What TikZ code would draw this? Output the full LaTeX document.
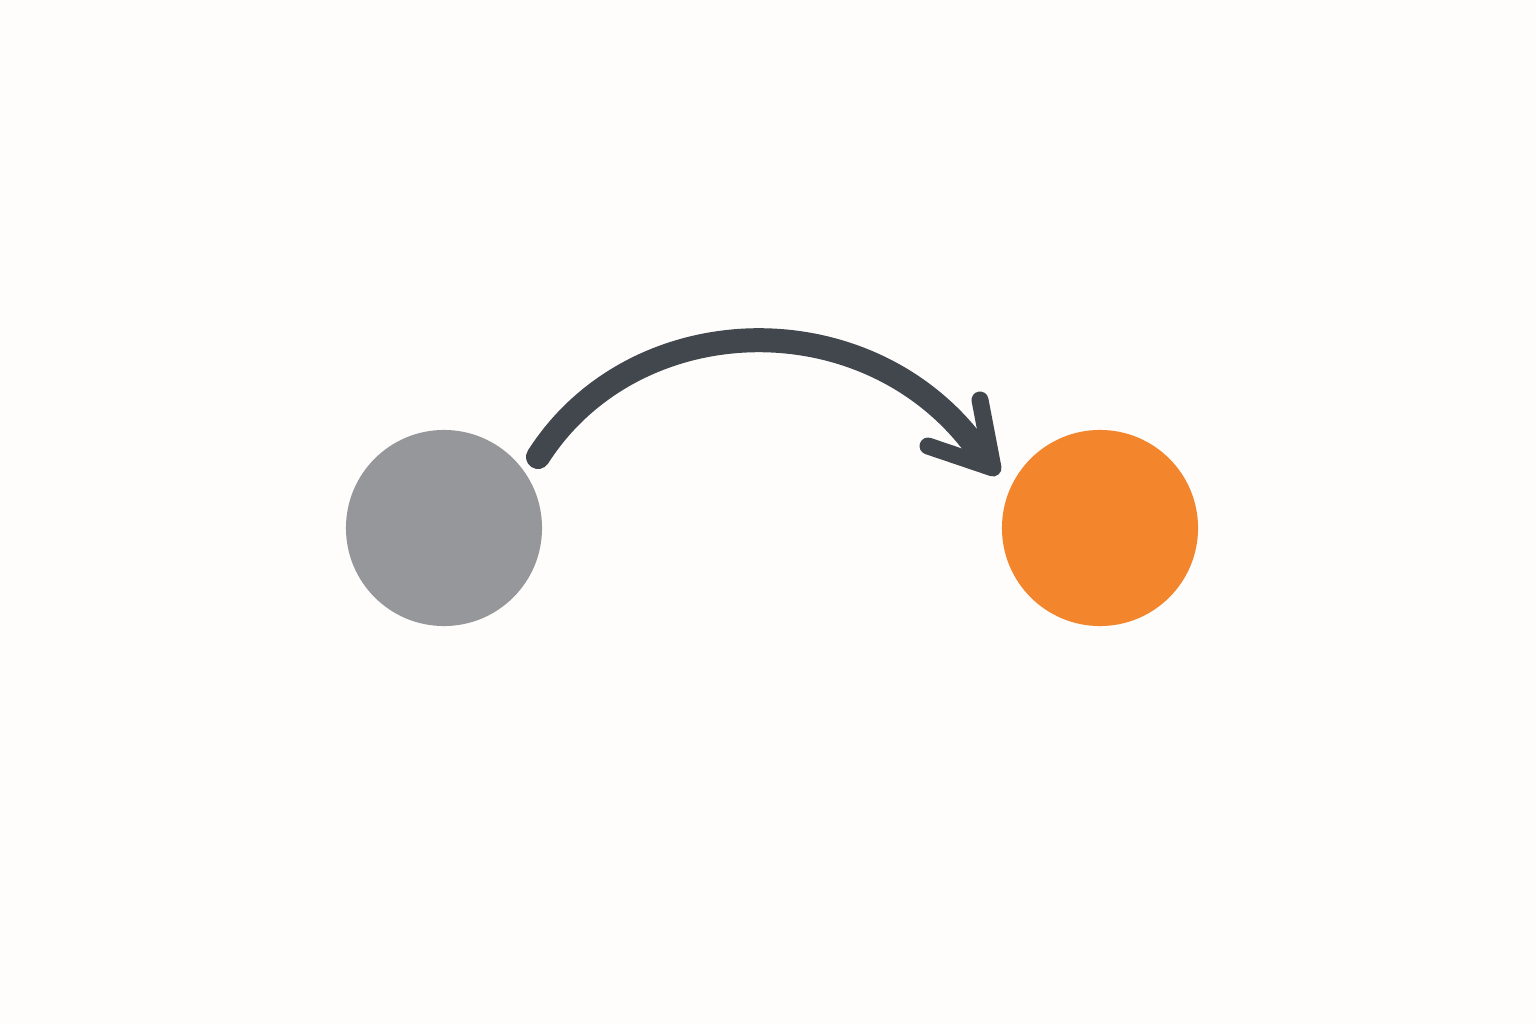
\documentclass[tikz,border=0pt]{standalone}
\usepackage{tikz}
\definecolor{bgc}{HTML}{FEFDFB}
\definecolor{grayc}{HTML}{96979B}
\definecolor{orangec}{HTML}{F3852C}
\definecolor{arrowc}{HTML}{41474D}
\begin{document}
\begin{tikzpicture}[x=0.01cm,y=-0.01cm,
  dot/.style={circle,minimum size=1.96cm,inner sep=0pt,draw=none},
  shaft/.style={draw=arrowc,line width=0.24cm,line cap=round},
  headline/.style={draw=arrowc,line width=0.17cm,line cap=round,line join=round}]
\fill[bgc] (0,0) rectangle (1536,1024);
\useasboundingbox (0,0) rectangle (1536,1024);
\node[dot,fill=grayc] (g) at (444,528) {};
\node[dot,fill=orangec] (o) at (1100,528) {};
\coordinate (s) at (538,457);
\coordinate (e) at (978,450);
\coordinate (tip) at (993,468);
\coordinate (h1) at (980,400);
\coordinate (h2) at (928,446);
\draw[shaft] (s) .. controls (635,305) and (870,300) .. (e);
\draw[headline] (h1) -- (tip) -- (h2);
\end{tikzpicture}
\end{document}
